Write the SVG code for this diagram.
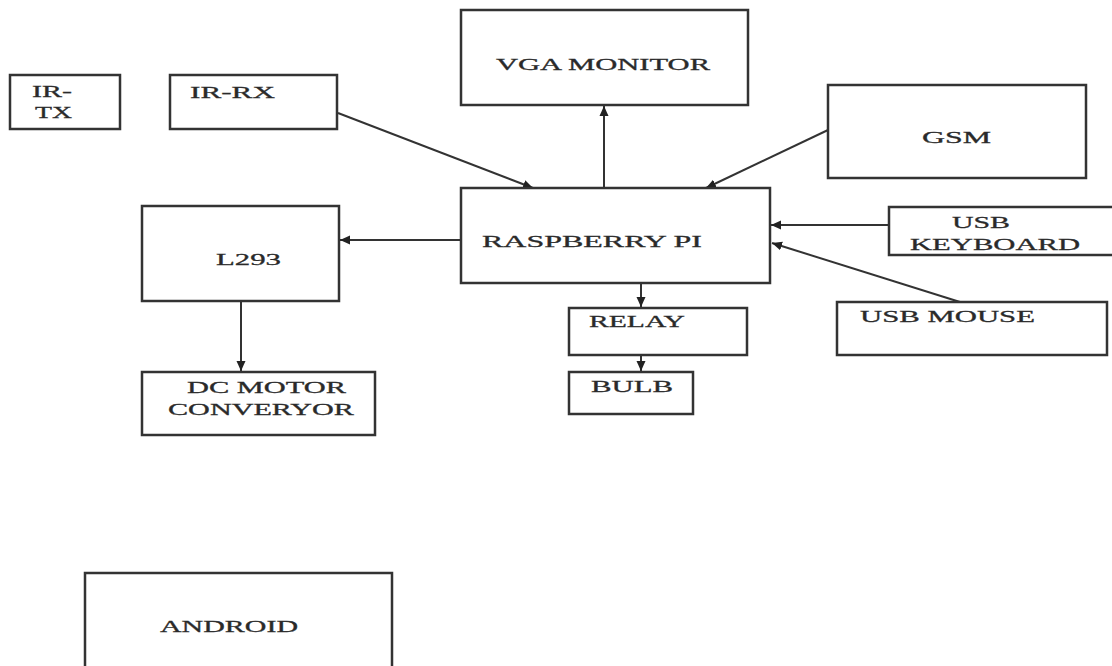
<svg xmlns="http://www.w3.org/2000/svg" width="1112" height="666" viewBox="0 0 1112 666">
<style>
.box{fill:#fff;stroke:#333;stroke-width:2.5}
.lbl{font-family:"Liberation Serif","Times New Roman",serif;font-size:17px;fill:#2a2a2a;stroke:#2a2a2a;stroke-width:0.3}
.con{stroke:#333;stroke-width:2;fill:none;marker-end:url(#ah)}
</style>
<defs>
<marker id="ah" markerUnits="userSpaceOnUse" markerWidth="11" markerHeight="10" refX="10" refY="5" orient="auto">
<path d="M0,0.5 L10,5 L0,9.5 z" fill="#222"/>
</marker>
</defs>
<rect width="1112" height="666" fill="#fff"/>
<g id="connectors">
<line class="con" x1="338" y1="113" x2="533" y2="188"/>
<line class="con" x1="604" y1="188" x2="604" y2="106"/>
<line class="con" x1="828" y1="130" x2="706" y2="188"/>
<line class="con" x1="889" y1="225" x2="771" y2="225"/>
<line class="con" x1="960" y1="302" x2="772" y2="243"/>
<line class="con" x1="461" y1="240" x2="340" y2="240"/>
<line class="con" x1="241" y1="301" x2="241" y2="371"/>
<line class="con" x1="641" y1="283" x2="641" y2="307"/>
<line class="con" x1="641" y1="355" x2="641" y2="371"/>
</g>
<g id="ir-tx"><rect class="box" x="10" y="75" width="110" height="54"/>
<text class="lbl" x="32" y="97" textLength="40" lengthAdjust="spacingAndGlyphs">IR-</text>
<text class="lbl" x="35" y="118" textLength="37" lengthAdjust="spacingAndGlyphs">TX</text></g>
<g id="ir-rx"><rect class="box" x="170" y="75" width="167" height="54"/>
<text class="lbl" x="190" y="98" textLength="85" lengthAdjust="spacingAndGlyphs">IR-RX</text></g>
<g id="vga"><rect class="box" x="461" y="10" width="287" height="95"/>
<text class="lbl" x="496" y="70" textLength="214" lengthAdjust="spacingAndGlyphs">VGA MONITOR</text></g>
<g id="gsm"><rect class="box" x="828" y="85" width="258" height="93"/>
<text class="lbl" x="922" y="143" textLength="69" lengthAdjust="spacingAndGlyphs">GSM</text></g>
<g id="rpi"><rect class="box" x="461" y="188" width="309" height="95"/>
<text class="lbl" x="482" y="247" textLength="220" lengthAdjust="spacingAndGlyphs">RASPBERRY PI</text></g>
<g id="keyboard"><rect class="box" x="889" y="207" width="230" height="48"/>
<text class="lbl" x="952" y="228" textLength="58" lengthAdjust="spacingAndGlyphs">USB</text>
<text class="lbl" x="910" y="250" textLength="170" lengthAdjust="spacingAndGlyphs">KEYBOARD</text></g>
<g id="mouse"><rect class="box" x="837" y="302" width="270" height="53"/>
<text class="lbl" x="860" y="322" textLength="175" lengthAdjust="spacingAndGlyphs">USB MOUSE</text></g>
<g id="l293"><rect class="box" x="142" y="206" width="197" height="95"/>
<text class="lbl" x="216" y="265" textLength="65" lengthAdjust="spacingAndGlyphs">L293</text></g>
<g id="dcmotor"><rect class="box" x="142" y="372" width="233" height="63"/>
<text class="lbl" x="187" y="393" textLength="159" lengthAdjust="spacingAndGlyphs">DC MOTOR</text>
<text class="lbl" x="168" y="415" textLength="186" lengthAdjust="spacingAndGlyphs">CONVERYOR</text></g>
<g id="relay"><rect class="box" x="569" y="308" width="178" height="47"/>
<text class="lbl" x="589" y="327" textLength="96" lengthAdjust="spacingAndGlyphs">RELAY</text></g>
<g id="bulb"><rect class="box" x="569" y="372" width="124" height="42"/>
<text class="lbl" x="591" y="392" textLength="82" lengthAdjust="spacingAndGlyphs">BULB</text></g>
<g id="android"><rect class="box" x="85" y="573" width="307" height="100"/>
<text class="lbl" x="160" y="632" textLength="138" lengthAdjust="spacingAndGlyphs">ANDROID</text></g>
</svg>
